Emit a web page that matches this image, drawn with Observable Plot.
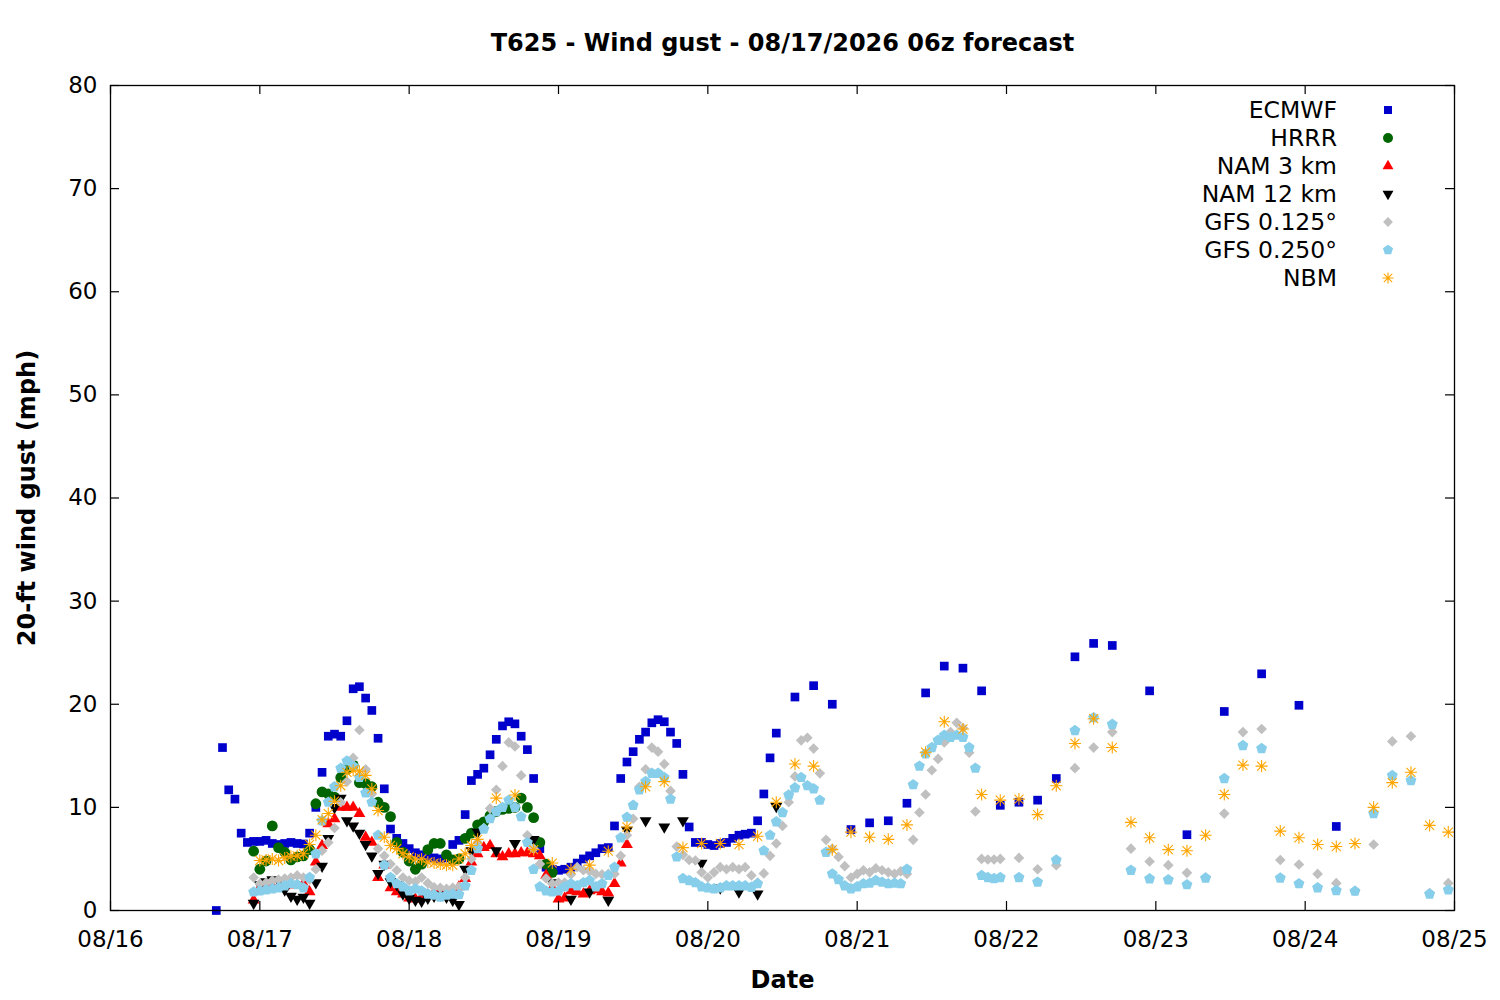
<!DOCTYPE html>
<html>
<head>
<meta charset="utf-8">
<script src="https://cdn.jsdelivr.net/npm/d3@7"></script>
<script src="https://cdn.jsdelivr.net/npm/@observablehq/plot@0.6"></script>
<style>
html, body { margin: 0; padding: 0; background: #fff; }
#chart { width: 1500px; height: 1000px; }
</style>
</head>
<body>
<div id="chart"></div>
<script>
// ---------- texts ----------
const title = "T625 - Wind gust - 08/17/2026 06z forecast";
const yLabel = "20-ft wind gust (mph)";
const xLabel = "Date";
const seriesNames = ["ECMWF", "HRRR", "NAM 3 km", "NAM 12 km", "GFS 0.125°", "GFS 0.250°", "NBM"];
const xTickLabels = ["08/16", "08/17", "08/18", "08/19", "08/20", "08/21", "08/22", "08/23", "08/24", "08/25"];
const yTicks = [0, 10, 20, 30, 40, 50, 60, 70, 80];

// ---------- data (hours are valid-time hours after 08/16 00:00) ----------
// ECMWF: hourly 17..107, 3-hourly 110..161, 6-hourly 167..197
const ecmwfHourly = [0, 15.8, 11.7, 10.8, 7.5, 6.6, 6.7, 6.7, 6.8, 6.5,
  6.4, 6.5, 6.6, 6.5, 6.45, 7.5, 10.0, 13.4, 16.9, 17.1,
  16.9, 18.4, 21.5, 21.7, 20.6, 19.4, 16.7, 11.8, 7.9, 7.0,
  6.5, 6.0, 5.6, 5.4, 5.2, 5.1, 5.0, 5.1, 6.4, 6.8,
  9.3, 12.6, 13.2, 13.8, 15.1, 16.6, 17.9, 18.3, 18.1, 16.9,
  15.6, 12.8, 6.0, 4.2, 4.0, 3.9, 4.0, 4.2, 4.6, 5.0,
  5.3, 5.6, 6.0, 6.1, 8.2, 12.8, 14.4, 15.4, 16.6, 17.3,
  18.2, 18.5, 18.3, 17.3, 16.2, 13.2, 8.1, 6.6, 6.6, 6.4,
  6.3, 6.5, 6.6, 7.0, 7.3, 7.4, 7.5, 8.7, 11.3, 14.8,
  17.2];
const ecmwf3h = [20.7, 21.8, 20.0, 7.85, 8.5, 8.7, 10.4, 21.1, 23.7, 23.5, 21.3, 10.2, 10.5, 10.7, 12.8, 24.6, 25.9, 25.7];
const ecmwf6h = [21.3, 7.35, 19.3, 22.95, 19.9, 8.15];

// HRRR: hourly 23..71
const hrrrHourly = [5.75, 4.0, 4.8, 8.2, 6.1, 5.65, 4.9, 5.2, 5.3, 5.9,
  10.35, 11.5, 11.3, 11.0, 12.9, 13.7, 14.1, 12.4, 12.3, 12.0,
  10.5, 10.0, 9.1, 6.6, 5.65, 4.8, 4.0, 4.5, 5.9, 6.5,
  6.5, 5.4, 4.9, 5.0, 7.0, 7.5, 8.3, 8.6, 9.2, 9.6,
  9.8, 9.9, 10.0, 10.9, 10.0, 9.0, 6.6, 4.5, 3.7];

// NAM 3 km: hourly 23..83
const nam3Hourly = [1.0, 2.2, 2.3, 2.3, 2.4, 2.4, 2.5, 2.5, 2.6, 1.8,
  4.7, 6.3, 8.4, 8.9, 10.0, 10.0, 10.0, 9.4, 7.1, 6.6,
  3.2, 4.4, 2.2, 1.8, 1.6, 1.2, 1.1, 1.3, 1.5, 1.7,
  1.9, 1.8, 2.0, 2.3, 3.1, 4.7, 5.5, 6.1, 6.3, 5.5,
  5.2, 5.5, 5.5, 5.6, 5.6, 5.5, 5.3, 3.4, 2.2, 1.1,
  1.2, 1.9, 1.8, 1.6, 1.9, 2.0, 1.8, 1.7, 2.6, 4.6,
  6.4];

// NAM 12 km: hourly 23..59, 3-hourly 62..107
const nam12Hourly = [0.7, 2.5, 2.8, 3.0, 2.9, 2.0, 1.4, 1.1, 1.3, 0.7,
  2.7, 4.3, 7.0, 10.0, 10.9, 8.7, 8.2, 7.5, 6.4, 5.3,
  3.6, 4.5, 2.8, 2.5, 1.6, 1.2, 1.0, 0.9, 1.2, 1.4,
  1.5, 1.3, 1.0, 0.6, 4.0, 5.8, 7.6];
const nam12_3h = [5.8, 6.5, 6.9, 2.7, 1.1, 1.8, 1.0, 7.8, 8.7, 8.1, 8.7, 4.6, 2.2, 1.8, 1.6, 10.1];

// GFS 0.125: hourly 23..143, 3-hourly 146..215
const gfs125Hourly = [3.2, 2.6, 2.7, 2.9, 3.0, 3.1, 3.2, 3.4, 3.2, 3.0,
  4.0, 5.8, 6.6, 8.0, 10.5, 12.5, 14.8, 17.5, 13.7, 11.3,
  6.0, 5.3, 4.5, 3.9, 3.2, 2.9, 2.8, 3.2, 2.65, 2.25,
  2.2, 2.1, 2.2, 2.3, 3.2, 5.0, 6.6, 8.0, 9.9, 11.7,
  14.0, 16.3, 15.9, 13.1, 7.3, 6.0, 4.5, 3.1, 2.6, 2.7,
  2.7, 3.5, 4.2, 3.9, 3.8, 3.55, 3.5, 3.55, 3.55, 5.3,
  7.3, 8.9, 12.0, 13.7, 15.8, 15.4, 14.2, 11.6, 6.2, 5.4,
  4.9, 4.85, 3.7, 3.2, 3.7, 4.2, 4.0, 4.2, 4.0, 4.2,
  3.4, 2.7, 3.6, 5.3, 6.5, 8.2, 10.5, 13.0, 16.5, 16.75,
  15.7, 13.3, 6.85, 6.0, 5.2, 4.3, 3.2, 3.55, 3.9, 3.7,
  4.1, 3.9, 3.7, 3.55, 3.8, 3.55, 6.85, 9.5, 11.25, 13.6,
  14.7, 16.3, 17.3, 18.2, 17.7, 15.3, 9.6, 5.0, 4.95, 4.95,
  5.0];
const gfs125_3h = [5.1, 4.0, 4.4, 13.8, 15.8, 17.3, 6.0, 4.75, 4.4, 3.65, 3.2, 9.4,
  17.3, 17.6, 4.9, 4.46, 3.55, 2.65, 1.9, 6.4, 16.4, 16.9, 1.7, 2.65];

// GFS 0.250: hourly 23..143, 3-hourly 146..215
const gfs25Hourly = [1.8, 1.9, 2.0, 2.1, 2.2, 2.4, 2.6, 2.5, 2.2, 3.2,
  5.5, 8.7, 10.5, 12.0, 13.8, 14.5, 14.0, 12.9, 11.4, 10.5,
  7.3, 4.4, 3.2, 2.6, 2.3, 1.9, 2.1, 1.9, 1.6, 1.5,
  1.3, 1.5, 1.6, 1.55, 2.4, 3.9, 6.0, 7.9, 8.9, 9.6,
  10.0, 10.7, 10.0, 9.1, 6.6, 4.0, 2.3, 1.9, 1.8, 1.9,
  2.3, 2.6, 2.4, 2.7, 2.9, 2.3, 2.6, 3.4, 4.2, 7.05,
  9.05, 10.2, 11.7, 12.5, 13.3, 13.3, 12.9, 10.8, 5.2, 3.1,
  2.9, 2.7, 2.3, 2.2, 2.1, 2.2, 2.4, 2.4, 2.4, 2.4,
  2.25, 2.6, 5.8, 7.3, 8.6, 9.5, 11.2, 11.9, 12.9, 12.1,
  11.8, 10.7, 5.65, 3.55, 3.0, 2.4, 2.1, 2.3, 2.6, 2.65,
  2.9, 2.75, 2.6, 2.65, 2.6, 4.0, 12.2, 14.0, 15.2, 15.8,
  16.5, 17.0, 16.8, 17.0, 16.8, 15.8, 13.8, 3.4, 3.2, 3.1,
  3.2];
const gfs25_3h = [3.2, 2.75, 4.9, 17.45, 18.7, 18.05, 3.9, 3.07, 2.97, 2.5, 3.15, 12.8,
  16.0, 15.7, 3.15, 2.6, 2.2, 1.94, 1.87, 9.4, 13.1, 12.6, 1.6, 2.0];

// NBM: hourly 24..59, 3-hourly 62..215
const nbmHourly = [4.85, 4.9, 5.0, 4.85, 5.1, 5.25, 5.3, 5.5, 6.4, 7.3,
  8.8, 9.4, 10.6, 12.1, 13.4, 13.6, 13.5, 13.1, 11.8, 9.7,
  7.1, 6.3, 6.0, 5.5, 5.2, 5.0, 5.0, 4.7, 4.6, 4.5,
  4.4, 4.4, 5.0, 5.5, 6.3, 6.9];
const nbm3h = [10.9, 11.2, 5.9, 4.6, 4.0, 4.4, 5.75, 8.1, 12.0, 12.5,
  6.1, 6.5, 6.5, 6.4, 7.2, 10.5, 14.2, 14.0, 5.9, 7.6,
  7.1, 6.9, 8.3, 15.35, 18.3, 17.6, 11.25, 10.7, 10.8, 9.3,
  12.1, 16.2, 18.6, 15.8, 8.55, 7.05, 5.9, 5.8, 7.3, 11.25,
  14.1, 14.0, 7.7, 7.05, 6.4, 6.2, 6.5, 10.0, 12.4, 13.4,
  8.25, 7.6];

// ---------- build tables ----------
const parseDay = d3.utcParse("%m/%d/%Y");
const xTicks = xTickLabels.map(s => parseDay(s + "/2026"));
const base = xTicks[0].getTime();
function seg(startHour, stepHours, values) {
  return values.map((v, i) => ({t: new Date(base + (startHour + i * stepHours) * 3600e3), v}));
}
const ecmwf = [...seg(17, 1, ecmwfHourly), ...seg(110, 3, ecmwf3h), ...seg(167, 6, ecmwf6h)];
const hrrr = seg(23, 1, hrrrHourly);
const nam3 = seg(23, 1, nam3Hourly);
const nam12 = [...seg(23, 1, nam12Hourly), ...seg(62, 3, nam12_3h)];
const gfs125 = [...seg(23, 1, gfs125Hourly), ...seg(146, 3, gfs125_3h)];
const gfs25 = [...seg(23, 1, gfs25Hourly), ...seg(146, 3, gfs25_3h)];
const nbm = [...seg(24, 1, nbmHourly), ...seg(62, 3, nbm3h)];

// ---------- symbols ----------
const S3 = Math.sqrt(3);
const triDown = {draw(ctx, size) {
  const y = Math.sqrt(size / (S3 * 3));
  ctx.moveTo(0, 2 * y); ctx.lineTo(-S3 * y, -y); ctx.lineTo(S3 * y, -y); ctx.closePath();
}};
const pentagon = {draw(ctx, size) {
  const r = Math.sqrt(size / 2.378);
  for (let k = 0; k < 5; ++k) {
    const a = -Math.PI / 2 + k * 2 * Math.PI / 5;
    const px = r * Math.cos(a), py = r * Math.sin(a);
    if (k === 0) ctx.moveTo(px, py); else ctx.lineTo(px, py);
  }
  ctx.closePath();
}};
const star8 = {draw(ctx, size) {
  const r = Math.sqrt(size) * 0.68, d = r * 0.75;
  ctx.moveTo(-r, 0); ctx.lineTo(r, 0);
  ctx.moveTo(0, -r); ctx.lineTo(0, r);
  ctx.moveTo(-d, -d); ctx.lineTo(d, d);
  ctx.moveTo(-d, d); ctx.lineTo(d, -d);
}};

const defs = [
  {name: seriesNames[0], data: ecmwf, symbol: d3.symbolSquare, r: 4.9, fill: "#0000cc", stroke: "none"},
  {name: seriesNames[1], data: hrrr, symbol: d3.symbolCircle, r: 5.4, fill: "#006400", stroke: "none"},
  {name: seriesNames[2], data: nam3, symbol: d3.symbolTriangle, r: 4.4, fill: "#ff0000", stroke: "none"},
  {name: seriesNames[3], data: nam12, symbol: triDown, r: 4.4, fill: "#000000", stroke: "none"},
  {name: seriesNames[4], data: gfs125, symbol: d3.symbolDiamond2, r: 4.8, fill: "#c0c0c0", stroke: "none"},
  {name: seriesNames[5], data: gfs25, symbol: pentagon, r: 5.0, fill: "#87ceeb", stroke: "none"},
  {name: seriesNames[6], data: nbm, symbol: star8, r: 5.0, fill: "none", stroke: "#ffa500"}
];

// ---------- plot ----------
const W = 1500, H = 1000, mL = 110, mR = 46, mT = 85, mB = 90;
const fw = W - mL - mR, fh = H - mT - mB;

const plot = Plot.plot({
  width: W, height: H,
  marginLeft: mL, marginRight: mR, marginTop: mT, marginBottom: mB,
  style: {fontFamily: "DejaVu Sans", fontSize: "23px", background: "white", color: "black"},
  x: {type: "utc", domain: [xTicks[0], xTicks[xTicks.length - 1]]},
  y: {domain: [0, 80]},
  marks: [
    ...defs.map(s => Plot.dot(s.data, {
      x: "t", y: "v", symbol: s.symbol, r: s.r, fill: s.fill, stroke: s.stroke, strokeWidth: 1.1
    })),
    Plot.frame({stroke: "black", strokeWidth: 1.3}),
    Plot.tickX(xTicks, {x: d => d, insetTop: fh - 9, stroke: "black", strokeWidth: 1.2}),
    Plot.tickX(xTicks, {x: d => d, insetBottom: fh - 9, stroke: "black", strokeWidth: 1.2}),
    Plot.tickY(yTicks, {y: d => d, insetRight: fw - 9, stroke: "black", strokeWidth: 1.2}),
    Plot.tickY(yTicks, {y: d => d, insetLeft: fw - 9, stroke: "black", strokeWidth: 1.2}),
    Plot.axisX(xTicks, {tickSize: 0, tickPadding: 20, tickFormat: d3.utcFormat("%m/%d"), label: null}),
    Plot.axisY(yTicks, {tickSize: 0, tickPadding: 13, label: null}),
    Plot.text([title], {text: d => d, frameAnchor: "top", dy: -42, lineAnchor: "middle", textAnchor: "middle", fontWeight: "bold", fontSize: 24}),
    Plot.text([xLabel], {text: d => d, frameAnchor: "bottom", dy: 70, lineAnchor: "middle", textAnchor: "middle", fontWeight: "bold", fontSize: 24}),
    Plot.text([yLabel], {text: d => d, frameAnchor: "left", dx: -83, rotate: -90, lineAnchor: "middle", textAnchor: "middle", fontWeight: "bold", fontSize: 24})
  ]
});
document.getElementById("chart").appendChild(plot);

// ---------- legend ----------
const svg = d3.select(plot);
const lg = svg.append("g").attr("font-family", "DejaVu Sans").attr("font-size", 23.5);
defs.forEach((s, i) => {
  const y = 110 + i * 28;
  lg.append("text").attr("x", 1337).attr("y", y).attr("dy", "0.36em")
    .attr("text-anchor", "end").attr("fill", "black").text(s.name);
  lg.append("path").attr("transform", `translate(1388,${y})`)
    .attr("d", d3.symbol(s.symbol, Math.PI * s.r * s.r * 0.85)())
    .attr("fill", s.fill).attr("stroke", s.stroke).attr("stroke-width", 1.1);
});
</script>
</body>
</html>
